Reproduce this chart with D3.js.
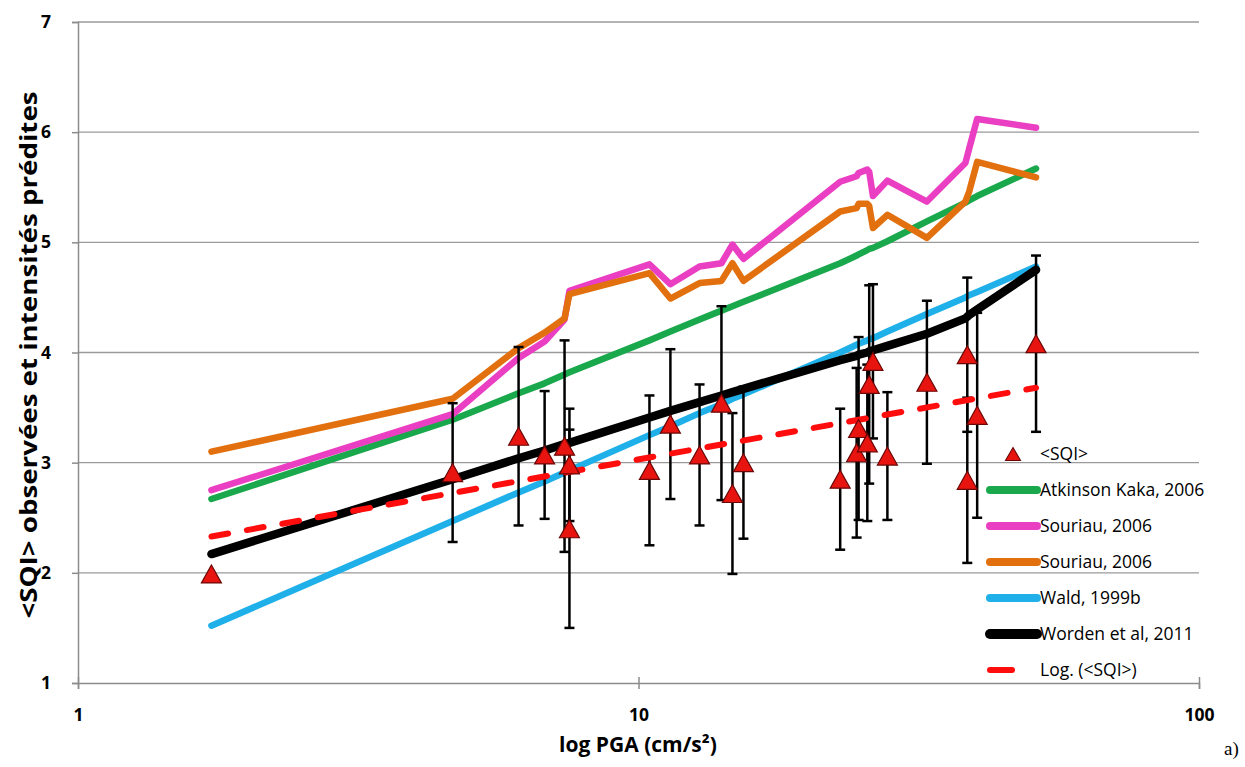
<!DOCTYPE html>
<html><head><meta charset="utf-8">
<script src="https://cdn.jsdelivr.net/npm/d3@7"></script>
<style>body{margin:0;background:#fff}svg{display:block}</style>
</head><body><svg id="c" width="1245" height="767"></svg>
<script>
// ---- data ----
const pga  = [1.73,4.66,6.11,6.80,7.38,7.53,7.53,10.46,11.40,12.85,14.06,14.71,15.39,22.9,24.5,24.7,25.6,25.8,26.2,27.8,32.7,38.6,38.6,40.2,51.2];
const sqi  = [1.99,2.91,3.24,3.07,3.15,2.98,2.40,2.93,3.35,3.07,3.54,2.72,3.00,2.85,3.09,3.31,3.18,3.71,3.92,3.06,3.73,3.98,2.84,3.43,4.08];
const sqiErr = [0,0.63,0.81,0.58,0.96,0.51,0.90,0.68,0.68,0.64,0.88,0.73,0.69,0.64,0.77,0.83,0.71,0.90,0.70,0.58,0.74,0.70,0.75,0.93,0.80];

const curvePGA = [1.73,4.66,6.11,6.80,7.38,7.53,10.46,11.40,12.85,14.06,14.71,15.39,22.9,24.5,24.7,25.6,25.8,26.2,27.8,32.7,38.3,38.9,40.2,51.2];
const atkinson = [2.67,3.39,3.63,3.72,3.80,3.82,4.11,4.19,4.30,4.38,4.42,4.46,4.81,4.88,4.89,4.93,4.94,4.95,5.01,5.19,5.36,5.38,5.42,5.67];
const souriauA = [2.75,3.44,3.95,4.10,4.30,4.56,4.80,4.62,4.78,4.81,4.98,4.85,5.55,5.60,5.63,5.66,5.64,5.42,5.56,5.37,5.72,5.85,6.12,6.04];
const souriauB = [3.10,3.58,4.04,4.18,4.31,4.53,4.72,4.49,4.63,4.65,4.81,4.65,5.28,5.31,5.35,5.35,5.33,5.13,5.25,5.04,5.37,5.46,5.73,5.59];
const wald     = [1.52,2.47,2.73,2.83,2.91,2.93,3.25,3.33,3.45,3.53,3.58,3.62,4.00,4.07,4.08,4.11,4.12,4.13,4.19,4.35,4.50,4.52,4.55,4.78];
const worden   = [2.17,2.85,3.04,3.11,3.17,3.18,3.41,3.47,3.55,3.61,3.64,3.67,3.93,3.97,3.98,4.00,4.01,4.02,4.06,4.17,4.31,4.34,4.39,4.75];
const trendPGA = [1.73,51.2];
const trendSQI = [2.33,3.68];

const xTicks = [1,10,100];
const yTicks = [1,2,3,4,5,6,7];

const seriesNames = ["<SQI>","Atkinson Kaka, 2006","Souriau, 2006","Souriau, 2006","Wald, 1999b","Worden et al, 2011","Log. (<SQI>)"];

// ---- layout ----
const svg = d3.select("#c");
svg.append("rect").attr("width",1245).attr("height",767).attr("fill","#fff");
const x = d3.scaleLog().domain([1,100]).range([78,1199]);
const y = d3.scaleLinear().domain([1,7]).range([683,22]);
const FONT = "'Open Sans','Liberation Sans',Arial,sans-serif";

// gridlines
svg.append("g").selectAll("line").data(yTicks.slice(1)).join("line")
  .attr("x1",78).attr("x2",1199).attr("y1",d=>y(d)).attr("y2",d=>y(d))
  .attr("stroke","#9a9a9a").attr("stroke-width",1.3);

// axes
const yAxis = svg.append("g").attr("transform","translate(78,0)")
  .call(d3.axisLeft(y).tickValues(yTicks).tickFormat(d3.format("d")).tickSize(6).tickPadding(22));
const xAxis = svg.append("g").attr("transform","translate(0,683)")
  .call(d3.axisBottom(x).tickValues(xTicks).tickFormat(d3.format("d")).tickSize(6).tickPadding(22));
[yAxis,xAxis].forEach(g=>{
  g.select(".domain").attr("stroke","#8c8c8c").attr("stroke-width",1.5);
  g.selectAll(".tick line").attr("stroke","#8c8c8c").attr("stroke-width",1.5);
  g.selectAll("text").attr("font-family",FONT).attr("font-weight","bold").attr("font-size",17.5).attr("fill","#000");
});
xAxis.selectAll(".tick line").attr("y1",-6).attr("y2",6);
xAxis.selectAll(".tick text").attr("y",26);
yAxis.selectAll(".tick text").attr("x",-27);

// titles
svg.append("text").attr("transform","translate(37,355) rotate(-90)")
  .attr("text-anchor","middle").attr("font-family",FONT).attr("font-weight","bold")
  .attr("font-size",23.5).attr("textLength",527).attr("lengthAdjust","spacingAndGlyphs")
  .text("<SQI> observées et intensités prédites");
svg.append("text").attr("x",638).attr("y",752).attr("text-anchor","middle")
  .attr("font-family",FONT).attr("font-weight","bold").attr("font-size",21)
  .text("log PGA (cm/s²)");
svg.append("text").attr("x",1224).attr("y",755).attr("font-family","'Liberation Serif','DejaVu Serif',serif")
  .attr("font-size",19).text("a)");

// curves
const curves = [
  {v:atkinson, c:"#1aa84c", w:6.5},
  {v:souriauA, c:"#ea3fc2", w:6.5},
  {v:souriauB, c:"#e2700f", w:6.5},
  {v:wald,     c:"#1fb0ea", w:6.5},
  {v:worden,   c:"#000000", w:8.5}
];
const line = d3.line().x(d=>x(d[0])).y(d=>y(d[1]));
curves.forEach(s=>{
  svg.append("path").datum(curvePGA.map((p,i)=>[p,s.v[i]]))
    .attr("d",line).attr("fill","none").attr("stroke",s.c).attr("stroke-width",s.w)
    .attr("stroke-linejoin","round").attr("stroke-linecap","round");
});

// error bars
const pts = pga.map((p,i)=>({p, v:sqi[i], e:sqiErr[i]}));
const eb = svg.append("g").attr("stroke","#000").attr("stroke-width",2.5);
pts.filter(d=>d.e>0).forEach(d=>{
  const cx = x(d.p), y0 = y(d.v-d.e), y1 = y(d.v+d.e);
  eb.append("line").attr("x1",cx).attr("x2",cx).attr("y1",y0).attr("y2",y1);
  eb.append("line").attr("x1",cx-5).attr("x2",cx+5).attr("y1",y0).attr("y2",y0);
  eb.append("line").attr("x1",cx-5).attr("x2",cx+5).attr("y1",y1).attr("y2",y1);
});

// trendline
svg.append("path").datum(trendPGA.map((p,i)=>[p,trendSQI[i]]))
  .attr("d",line).attr("fill","none").attr("stroke","#ff0d0d").attr("stroke-width",6)
  .attr("stroke-dasharray","17,19").attr("stroke-linecap","round");

// triangles
const tri = (w,h)=>`M0,${-h/2}L${w/2},${h/2}L${-w/2},${h/2}Z`;
svg.append("g").selectAll("path").data(pts).join("path")
  .attr("transform",d=>`translate(${x(d.p)},${y(d.v)})`)
  .attr("d",tri(20,18)).attr("fill","#e8140f").attr("stroke","#6a0606").attr("stroke-width",1.2);

// legend
const lg = svg.append("g");
const rowY = [454,490,526,562,598,634,670];
const lx0 = 990, lx1 = 1037, tx = 1040;
lg.append("path").attr("transform",`translate(1013,${rowY[0]})`).attr("d",tri(15,13))
  .attr("fill","#e8140f").attr("stroke","#6a0606").attr("stroke-width",1.1);
curves.forEach((s,i)=>{
  lg.append("line").attr("x1",lx0).attr("x2",lx1).attr("y1",rowY[i+1]).attr("y2",rowY[i+1])
    .attr("stroke",s.c).attr("stroke-width",s.w+1.5).attr("stroke-linecap","round");
});
lg.append("line").attr("x1",lx0).attr("x2",lx0+22).attr("y1",rowY[6]).attr("y2",rowY[6])
  .attr("stroke","#ff0d0d").attr("stroke-width",6).attr("stroke-linecap","round");
lg.selectAll("text").data(seriesNames).join("text")
  .attr("x",tx).attr("y",(d,i)=>rowY[i]).attr("dy","0.35em")
  .attr("font-family",FONT).attr("font-size",17.5).attr("fill","#000").text(d=>d);
</script></body></html>
